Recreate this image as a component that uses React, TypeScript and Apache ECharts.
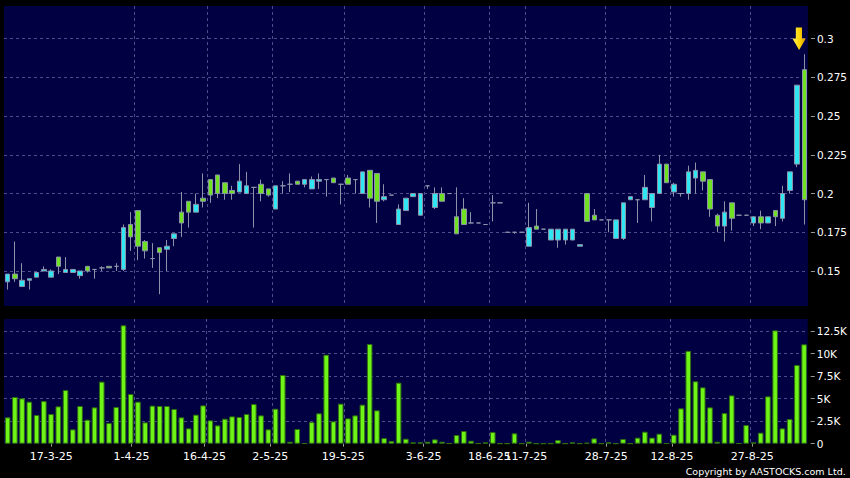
import React, { useEffect, useRef } from "react";
import * as echarts from "echarts";

const dates = [
  "7-3-25", "10-3-25", "11-3-25", "12-3-25", "13-3-25", "14-3-25", "17-3-25", "18-3-25", "19-3-25", "20-3-25",
  "21-3-25", "24-3-25", "25-3-25", "26-3-25", "27-3-25", "28-3-25", "31-3-25", "1-4-25", "2-4-25", "3-4-25",
  "7-4-25", "8-4-25", "9-4-25", "10-4-25", "11-4-25", "14-4-25", "15-4-25", "16-4-25", "17-4-25", "22-4-25",
  "23-4-25", "24-4-25", "25-4-25", "28-4-25", "29-4-25", "30-4-25", "2-5-25", "6-5-25", "7-5-25", "8-5-25",
  "9-5-25", "12-5-25", "13-5-25", "14-5-25", "15-5-25", "16-5-25", "19-5-25", "20-5-25", "21-5-25", "22-5-25",
  "23-5-25", "26-5-25", "27-5-25", "28-5-25", "29-5-25", "30-5-25", "2-6-25", "3-6-25", "4-6-25", "5-6-25",
  "6-6-25", "9-6-25", "10-6-25", "11-6-25", "12-6-25", "16-6-25", "18-6-25", "20-6-25", "25-6-25", "3-7-25",
  "8-7-25", "11-7-25", "14-7-25", "15-7-25", "16-7-25", "17-7-25", "18-7-25", "21-7-25", "22-7-25", "23-7-25",
  "24-7-25", "25-7-25", "28-7-25", "29-7-25", "30-7-25", "31-7-25", "1-8-25", "4-8-25", "6-8-25", "7-8-25",
  "11-8-25", "12-8-25", "13-8-25", "14-8-25", "15-8-25", "18-8-25", "19-8-25", "20-8-25", "21-8-25", "22-8-25",
  "25-8-25", "26-8-25", "27-8-25", "28-8-25", "29-8-25", "1-9-25", "2-9-25", "3-9-25", "4-9-25", "5-9-25",
  "8-9-25",
];

const opens = [
  0.143, 0.148, 0.140, 0.144, 0.146, 0.150, 0.146, 0.159, 0.149, 0.149,
  0.147, 0.153, 0.151, 0.152, 0.153, 0.153, 0.151, 0.180, 0.189, 0.169,
  0.158, 0.165, 0.164, 0.171, 0.188, 0.195, 0.188, 0.197, 0.209, 0.212,
  0.207, 0.202, 0.201, 0.200, 0.204, 0.206, 0.203, 0.190, 0.205, 0.206,
  0.208, 0.206, 0.203, 0.208, 0.209, 0.210, 0.206, 0.210, 0.209, 0.200,
  0.215, 0.213, 0.196, 0.199, 0.180, 0.189, 0.198, 0.186, 0.205, 0.191,
  0.200, 0.200, 0.185, 0.190, 0.181, 0.181, 0.180, 0.194, 0.194, 0.175,
  0.175, 0.175, 0.166, 0.179, 0.177, 0.170, 0.170, 0.170, 0.170, 0.166,
  0.200, 0.186, 0.183, 0.183, 0.171, 0.171, 0.196, 0.196, 0.196, 0.191,
  0.200, 0.219, 0.201, 0.200, 0.200, 0.210, 0.214, 0.209, 0.186, 0.179,
  0.194, 0.186, 0.186, 0.181, 0.185, 0.181, 0.189, 0.184, 0.202, 0.219,
  0.280,
];

const closes = [
  0.148, 0.145, 0.144, 0.145, 0.149, 0.151, 0.150, 0.153, 0.151, 0.151,
  0.150, 0.150, 0.151, 0.152, 0.152, 0.153, 0.178, 0.172, 0.166, 0.163,
  0.158, 0.162, 0.166, 0.174, 0.181, 0.188, 0.193, 0.195, 0.199, 0.200,
  0.200, 0.200, 0.208, 0.205, 0.204, 0.200, 0.199, 0.205, 0.205, 0.206,
  0.206, 0.209, 0.209, 0.209, 0.209, 0.207, 0.206, 0.206, 0.209, 0.214,
  0.197, 0.195, 0.198, 0.199, 0.190, 0.197, 0.200, 0.200, 0.205, 0.200,
  0.195, 0.200, 0.174, 0.180, 0.181, 0.181, 0.180, 0.194, 0.194, 0.175,
  0.175, 0.175, 0.178, 0.177, 0.177, 0.177, 0.177, 0.177, 0.177, 0.167,
  0.182, 0.183, 0.183, 0.183, 0.183, 0.194, 0.198, 0.196, 0.204, 0.200,
  0.219, 0.207, 0.206, 0.200, 0.214, 0.215, 0.208, 0.190, 0.179, 0.188,
  0.184, 0.186, 0.186, 0.185, 0.181, 0.185, 0.185, 0.200, 0.214, 0.270,
  0.196,
];

const lows = [
  0.138, 0.143, 0.140, 0.138, 0.146, 0.150, 0.146, 0.148, 0.149, 0.149,
  0.145, 0.149, 0.145, 0.150, 0.152, 0.150, 0.150, 0.163, 0.157, 0.158,
  0.152, 0.135, 0.150, 0.166, 0.172, 0.178, 0.188, 0.191, 0.194, 0.197,
  0.196, 0.196, 0.201, 0.200, 0.178, 0.195, 0.198, 0.190, 0.200, 0.201,
  0.206, 0.204, 0.203, 0.203, 0.198, 0.207, 0.193, 0.206, 0.200, 0.200,
  0.191, 0.181, 0.195, 0.199, 0.180, 0.189, 0.198, 0.186, 0.203, 0.190,
  0.195, 0.200, 0.174, 0.180, 0.181, 0.181, 0.180, 0.182, 0.194, 0.175,
  0.174, 0.175, 0.166, 0.177, 0.177, 0.170, 0.165, 0.167, 0.170, 0.166,
  0.182, 0.183, 0.183, 0.175, 0.171, 0.170, 0.196, 0.181, 0.196, 0.182,
  0.200, 0.207, 0.198, 0.198, 0.196, 0.200, 0.202, 0.185, 0.175, 0.169,
  0.176, 0.186, 0.186, 0.179, 0.177, 0.181, 0.179, 0.182, 0.200, 0.217,
  0.180,
];

const highs = [
  0.148, 0.169, 0.155, 0.145, 0.149, 0.153, 0.151, 0.159, 0.159, 0.151,
  0.150, 0.153, 0.151, 0.153, 0.153, 0.155, 0.180, 0.188, 0.189, 0.170,
  0.168, 0.165, 0.170, 0.174, 0.201, 0.195, 0.200, 0.213, 0.209, 0.212,
  0.207, 0.205, 0.219, 0.214, 0.204, 0.209, 0.203, 0.205, 0.208, 0.213,
  0.208, 0.209, 0.211, 0.213, 0.209, 0.210, 0.206, 0.212, 0.209, 0.214,
  0.215, 0.213, 0.206, 0.199, 0.193, 0.197, 0.200, 0.200, 0.205, 0.204,
  0.204, 0.200, 0.204, 0.197, 0.188, 0.181, 0.180, 0.199, 0.194, 0.175,
  0.175, 0.175, 0.194, 0.190, 0.177, 0.177, 0.177, 0.177, 0.177, 0.167,
  0.200, 0.190, 0.183, 0.183, 0.183, 0.194, 0.198, 0.196, 0.212, 0.200,
  0.225, 0.219, 0.207, 0.200, 0.218, 0.220, 0.214, 0.209, 0.187, 0.195,
  0.194, 0.186, 0.186, 0.185, 0.189, 0.185, 0.189, 0.205, 0.214, 0.270,
  0.290,
];

const volumes = [
  2920, 5180, 5030, 4660, 3180, 4730, 3290, 4140, 5950, 1590,
  4180, 2660, 4030, 6880, 2290, 4070, 13130, 5510, 4660, 2370,
  4220, 4180, 4180, 3850, 2920, 1700, 3220, 4250, 2590, 2030,
  2770, 3030, 2960, 3290, 4400, 3140, 1590, 3880, 7620, 220,
  1630, 40, 2400, 3370, 9870, 2480, 4440, 2810, 3140, 4330,
  11060, 3700, 630, 300, 6770, 550, 150, 150, 220, 480,
  220, 40, 960, 1410, 330, 40, 150, 1290, 20, 20,
  1150, 20, 220, 20, 20, 20, 410, 20, 150, 20,
  110, 590, 20, 150, 20, 520, 20, 670, 1330, 670,
  1110, 40, 1000, 3920, 10300, 6920, 6250, 4030, 220, 3400,
  5360, 40, 2070, 150, 1220, 5250, 12570, 1700, 2740, 8730,
  11020,
];

const labelDates = ["17-3-25", "1-4-25", "16-4-25", "2-5-25", "19-5-25", "3-6-25", "18-6-25", "11-7-25", "28-7-25", "12-8-25", "27-8-25"];

const arrowDate = "8-9-25";
const arrowPrice = 0.3;

const NAVY = "#000042";
const CYAN = "#2fe6f2";
const GREEN = "#6fe022";
const VOL_GREEN = "#6ef416";
const WICK = "#8c92aa";
const GRID_LINE = { color: "#4d4d88", type: [3, 3], width: 1 };
const FONT = "DejaVu Sans";

export default function App() {
  const ref = useRef<HTMLDivElement>(null);

  useEffect(() => {
    const el = ref.current;
    if (!el) return;
    const chart = echarts.init(el, null, { renderer: "svg" });

    const labelIdx = new Set(labelDates.map((d) => dates.indexOf(d)));
    const isLabel = (i: number) => labelIdx.has(i);
    const isGridLine = (i: number) => labelIdx.has(i - 1);

    const candleData = dates.map((_, i) => [opens[i], closes[i], lows[i], highs[i]]);

    const hiddenCat = (gridIndex: number) => ({
      type: "category",
      gridIndex,
      data: dates,
      boundaryGap: true,
      axisLine: { show: false },
      axisTick: { show: false },
      axisLabel: { show: false },
      splitLine: { show: true, interval: isGridLine, lineStyle: GRID_LINE, showMinLine: false, showMaxLine: false },
    });

    const option = {
      animation: false,
      backgroundColor: "#000000",
      grid: [
        { left: 4, width: 804, top: 6, height: 303.7, show: true, backgroundColor: NAVY, borderWidth: 0 },
        { left: 4, width: 804, top: 319, height: 124.7, show: true, backgroundColor: NAVY, borderWidth: 0 },
        { left: 3.73, width: 810.6, top: 319, height: 124.7, show: false },
      ],
      xAxis: [
        hiddenCat(0),
        hiddenCat(1),
        {
          type: "category",
          gridIndex: 2,
          data: dates,
          boundaryGap: true,
          offset: 3,
          axisLine: { show: false },
          axisTick: { show: true, alignWithLabel: true, interval: isLabel, length: 3, lineStyle: { color: "#9a9a9a" } },
          axisLabel: { show: true, interval: isLabel, hideOverlap: false, color: "#ffffff", fontSize: 11, fontFamily: FONT, margin: 4 },
          splitLine: { show: false },
        },
      ],
      yAxis: [
        {
          type: "value",
          gridIndex: 0,
          position: "right",
          min: 0.125,
          max: 0.3211,
          interval: 0.025,
          offset: 3,
          axisLine: { show: false },
          axisTick: { show: true, length: 4, lineStyle: { color: "#9a9a9a" } },
          axisLabel: {
            color: "#ffffff",
            fontSize: 10.5,
            fontFamily: FONT,
            margin: 6,
            showMinLabel: false,
            showMaxLabel: false,
            formatter: (v: number) => String(Math.round(v * 1000) / 1000),
          },
          splitLine: { show: true, lineStyle: GRID_LINE, showMinLine: false, showMaxLine: false },
        },
        {
          type: "value",
          gridIndex: 1,
          position: "right",
          min: 0,
          max: 13830,
          interval: 2500,
          offset: 3,
          axisLine: { show: false },
          axisTick: { show: true, length: 4, lineStyle: { color: "#9a9a9a" } },
          axisLabel: {
            color: "#ffffff",
            fontSize: 10.5,
            fontFamily: FONT,
            margin: 6,
            showMaxLabel: false,
            formatter: (v: number) => (v === 0 ? "0" : `${v / 1000}K`),
          },
          splitLine: { show: true, lineStyle: GRID_LINE, showMinLine: false, showMaxLine: false },
        },
        { type: "value", gridIndex: 2, show: false },
      ],
      series: [
        {
          type: "candlestick",
          xAxisIndex: 0,
          yAxisIndex: 0,
          data: candleData,
          barWidth: 5,
          itemStyle: {
            color: CYAN,
            color0: GREEN,
            borderColor: WICK,
            borderColor0: WICK,
            borderColorDoji: WICK,
            borderWidth: 1,
          },
          markPoint: {
            symbol: "path://M3.4,0L9.6,0L9.6,11L13.4,11L6.7,22.6L0,11L3.4,11Z",
            symbolSize: [13.4, 22.6],
            symbolKeepAspect: false,
            symbolOffset: [-5.2, 0],
            label: { show: false },
            itemStyle: {
              color: {
                type: "linear",
                x: 0, y: 0, x2: 1, y2: 0,
                colorStops: [
                  { offset: 0, color: "#fff35a" },
                  { offset: 0.55, color: "#ffd400" },
                  { offset: 1, color: "#d89200" },
                ],
              },
            },
            data: [{ coord: [arrowDate, arrowPrice] }],
          },
        },
        {
          type: "bar",
          xAxisIndex: 1,
          yAxisIndex: 1,
          data: volumes,
          barWidth: 5.6,
          itemStyle: { color: VOL_GREEN, borderColor: "#2f6e10", borderWidth: 1 },
        },
      ],
      graphic: [
        { type: "rect", z: 100, shape: { x: 0, y: 306, width: 850, height: 13 }, style: { fill: "#000000" } },
        { type: "rect", z: 100, shape: { x: 808, y: 305, width: 42, height: 15.5 }, style: { fill: "#000000" } },
        { type: "rect", z: 100, shape: { x: 808, y: 0, width: 42, height: 9 }, style: { fill: "#000000" } },
        {
          type: "text",
          z: 100,
          x: 845.7,
          y: 471.7,
          style: {
            text: "Copyright by AASTOCKS.com Ltd.",
            fill: "#ffffff",
            fontSize: 9.5,
            fontFamily: FONT,
            align: "right",
            verticalAlign: "middle",
          },
        },
      ],
    };

    chart.setOption(option as any);
    return () => chart.dispose();
  }, []);

  return (
    <div
      ref={ref}
      style={{ position: "fixed", left: 0, top: 0, width: 850, height: 478, background: "#000" }}
    />
  );
}
